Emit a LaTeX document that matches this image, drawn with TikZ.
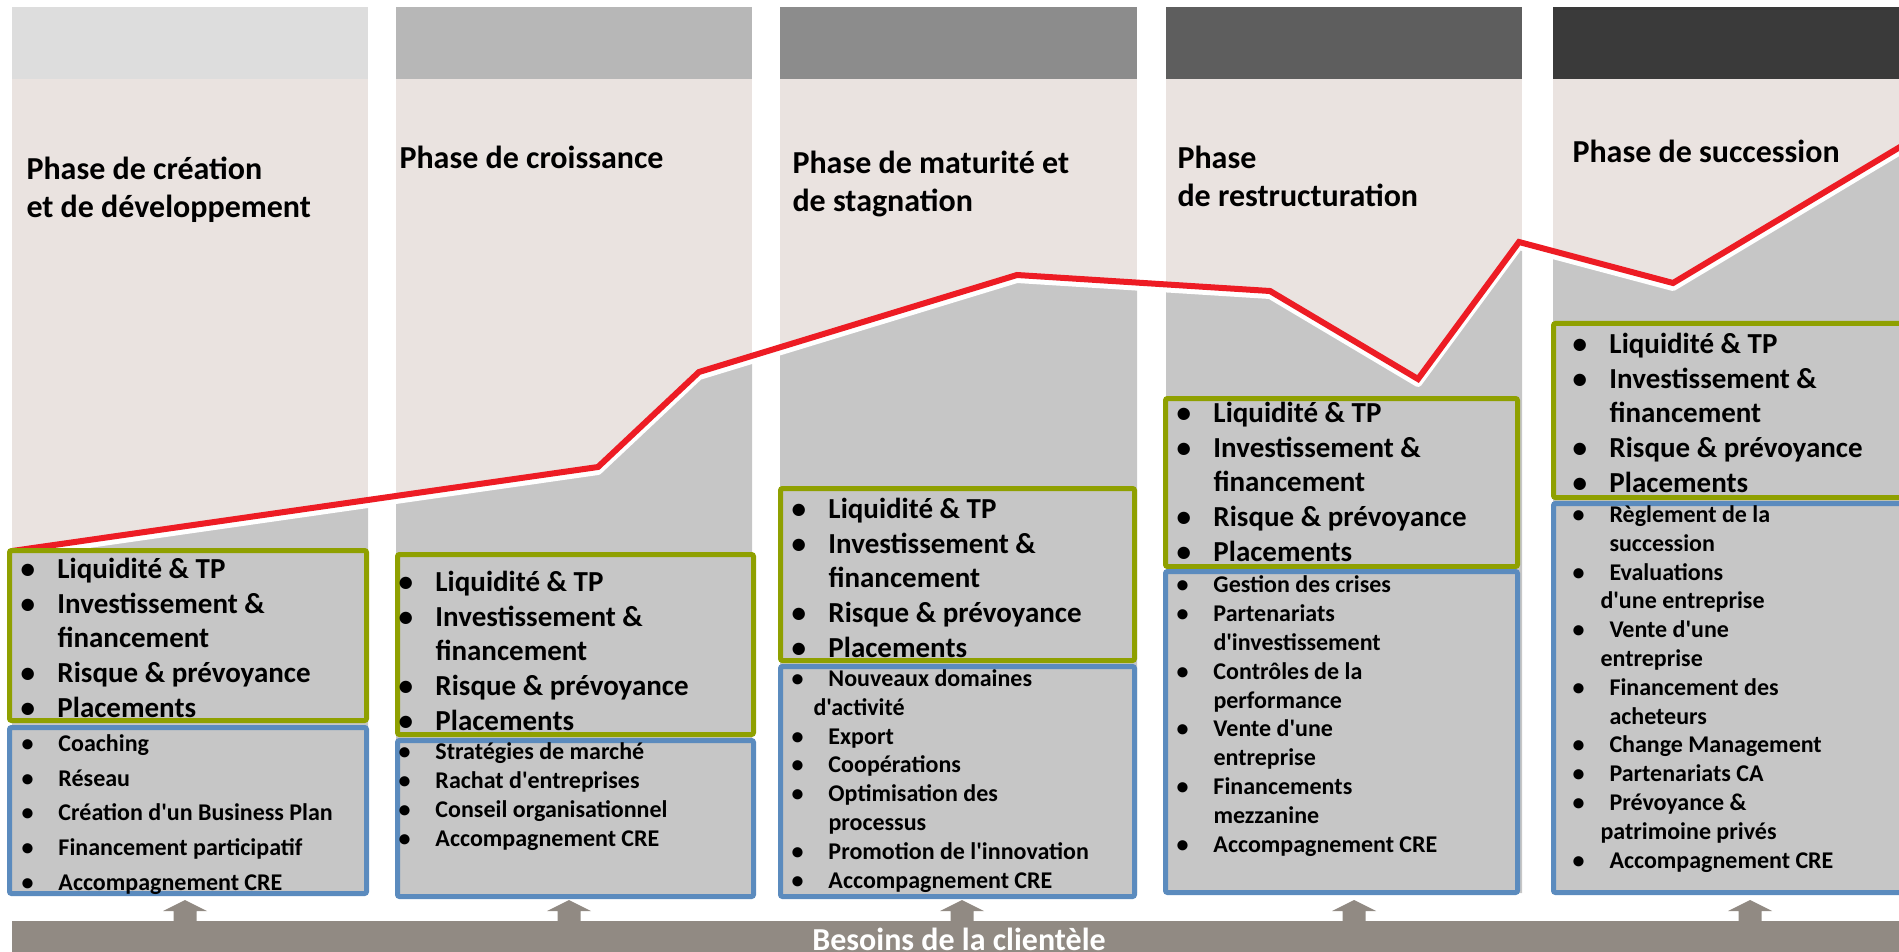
\documentclass[tikz,border=0pt]{standalone}
\usepackage{fontspec}
\setmainfont{Carlito}[Ligatures=TeXOff]
\usetikzlibrary{positioning}

\definecolor{hdA}{RGB}{221,221,221}
\definecolor{hdB}{RGB}{183,183,183}
\definecolor{hdC}{RGB}{140,140,140}
\definecolor{hdD}{RGB}{94,94,94}
\definecolor{hdE}{RGB}{58,58,58}
\definecolor{colbody}{RGB}{234,227,224}
\definecolor{areagray}{RGB}{198,198,198}
\definecolor{boxgreen}{RGB}{143,160,0}
\definecolor{boxblue}{RGB}{91,139,190}
\definecolor{curvered}{RGB}{237,28,36}
\definecolor{bandbrown}{RGB}{145,138,131}

% bullet and hanging indent of the lists
\newcommand\bul{\makebox[27.75pt][l]{\textbullet}}
\newcommand\hang{\hspace*{27.75pt}}
\newcommand\needslist{\bul Liquidité \& TP\\\bul Investissement \&\\\hang financement\\\bul Risque \& prévoyance\\\bul Placements}

\tikzset{every picture/.style={line width=0.75pt}}

\begin{document}
\begin{tikzpicture}[x=0.75pt,y=0.75pt,yscale=-1,xscale=1,
  phasetitle/.style={anchor=base west,inner sep=0pt,align=left,font=\fontsize{24}{28.5}\selectfont\bfseries},
  mainneeds/.style={anchor=base west,inner sep=0pt,align=left,font=\fontsize{21.75}{26}\selectfont\bfseries},
  servicelist/.style={anchor=base west,inner sep=0pt,align=left,font=\fontsize{18}{21.6}\selectfont\bfseries},
  greenframe/.style={draw=boxgreen,fill=areagray,line width=3.75pt,rounded corners=1.5pt},
  blueframe/.style={draw=boxblue,fill=areagray,line width=3.75pt,rounded corners=1.5pt},
  needarrow/.style={fill=bandbrown}]
\clip (0,0) rectangle (1899,952);

% Columns: header band and body
\fill[hdA] (12,7) rectangle (368,79);
\fill[hdB] (396,7) rectangle (752,79);
\fill[hdC] (780,7) rectangle (1137,79);
\fill[hdD] (1166,7) rectangle (1522,79);
\fill[hdE] (1553,7) rectangle (1910,79);
\fill[colbody] (12,79) rectangle (368,893);
\fill[colbody] (396,79) rectangle (752,893);
\fill[colbody] (780,79) rectangle (1137,893);
\fill[colbody] (1166,79) rectangle (1522,893);
\fill[colbody] (1553,79) rectangle (1910,893);

% Growth curve
\coordinate (c0) at (12,551);
\coordinate (c1) at (598,467);
\coordinate (c2) at (699,372);
\coordinate (c3) at (1017,275);
\coordinate (c4) at (1270,291);
\coordinate (c5) at (1418,379);
\coordinate (c6) at (1519,242);
\coordinate (c7) at (1673,283);
\coordinate (c8) at (1910,141);
\begin{scope}
\clip (12,79) rectangle (368,893) (396,79) rectangle (752,893) (780,79) rectangle (1137,893)
      (1166,79) rectangle (1522,893) (1553,79) rectangle (1910,893);
\fill[areagray] (c0) -- (c1) -- (c2) -- (c3) -- (c4) -- (c5) -- (c6) -- (c7) -- (c8) -- (1910,900) -- (12,900) -- cycle;
\end{scope}
\draw[white,line width=6pt,line join=round,transform canvas={yshift=-3pt}] (c0) -- (c1) -- (c2) -- (c3) -- (c4) -- (c5) -- (c6) -- (c7) -- (c8);
\draw[curvered,line width=4.5pt] (c0) -- (c1) -- (c2) -- (c3) -- (c4) -- (c5) -- (c6) -- (c7) -- (c8);

% Phase titles (placed at the baseline of their last line)
\node[phasetitle] (t1) at (26,218) {Phase de création\\et de développement};
\node[phasetitle] (t2) at (399,169) {Phase de croissance};
\node[phasetitle] (t3) at (792,212) {Phase de maturité et\\de stagnation};
\node[phasetitle] (t4) at (1177,207) {Phase\\de restructuration};
\node[phasetitle] (t5) at (1572,163) {Phase de succession};

% Frames
\draw[greenframe] (9.5,550.5) rectangle (366.5,720.5);
\draw[blueframe] (9.5,727.5) rectangle (366.5,893.5);
\draw[greenframe] (397.5,554.5) rectangle (753.5,734.5);
\draw[blueframe] (397.5,740.5) rectangle (753.5,896.5);
\draw[greenframe] (780.5,488.5) rectangle (1134.5,660.5);
\draw[blueframe] (780.5,666.5) rectangle (1134.5,896.5);
\draw[greenframe] (1165.5,398.5) rectangle (1517.5,566.5);
\draw[blueframe] (1165.5,571.5) rectangle (1517.5,892.5);
\draw[greenframe] (1553.5,323.5) rectangle (1915,497.5);
\draw[blueframe] (1553.5,503.5) rectangle (1915,892.5);

% Needs
\node[mainneeds] (n1) at (20,717) {\needslist};
\node[mainneeds] (n2) at (398,730) {\needslist};
\node[mainneeds] (n3) at (791,657) {\needslist};
\node[mainneeds] (n4) at (1176,561) {\needslist};
\node[mainneeds] (n5) at (1572,492) {\needslist};

% Services
\node[servicelist,font=\fontsize{18}{25.9}\selectfont\bfseries] (s1) at (21,890) {\bul Coaching\\\bul Réseau\\\bul Création d'un Business Plan\\\bul Financement participatif\\\bul Accompagnement CRE};
\node[servicelist] (s2) at (398,846) {\bul Stratégies de marché\\\bul Rachat d'entreprises\\\bul Conseil organisationnel\\\bul Accompagnement CRE};
\node[servicelist] (s3) at (791,888) {\bul Nouveaux domaines\\\hspace*{16.5pt}d'activité\\\bul Export\\\bul Coopérations\\\bul Optimisation des\\\hang processus\\\bul Promotion de l'innovation\\\bul Accompagnement CRE};
\node[servicelist] (s4) at (1176,852) {\bul Gestion des crises\\\bul Partenariats\\\hang d'investissement\\\bul Contrôles de la\\\hang performance\\\bul Vente d'une\\\hang entreprise\\\bul Financements\\\hang mezzanine\\\bul Accompagnement CRE};
\node[servicelist] (s5) at (1572,868) {\bul Règlement de la\\\hang succession\\\bul Evaluations\\\hspace*{21pt}d'une entreprise\\\bul Vente d'une\\\hspace*{21pt}entreprise\\\bul Financement des\\\hang acheteurs\\\bul Change Management\\\bul Partenariats CA\\\bul Prévoyance \&\\\hspace*{21pt}patrimoine privés\\\bul Accompagnement CRE};

% Client needs band
\fill[needarrow] (185,900) -- ++(22,11) -- ++(-10.5,0) -- ++(0,11) -- ++(-23,0) -- ++(0,-11) -- ++(-10.5,0) -- cycle;
\fill[needarrow] (569,900) -- ++(22,11) -- ++(-10.5,0) -- ++(0,11) -- ++(-23,0) -- ++(0,-11) -- ++(-10.5,0) -- cycle;
\fill[needarrow] (962,900) -- ++(22,11) -- ++(-10.5,0) -- ++(0,11) -- ++(-23,0) -- ++(0,-11) -- ++(-10.5,0) -- cycle;
\fill[needarrow] (1354,900) -- ++(22,11) -- ++(-10.5,0) -- ++(0,11) -- ++(-23,0) -- ++(0,-11) -- ++(-10.5,0) -- cycle;
\fill[needarrow] (1750,900) -- ++(22,11) -- ++(-10.5,0) -- ++(0,11) -- ++(-23,0) -- ++(0,-11) -- ++(-10.5,0) -- cycle;
\fill[bandbrown] (12,921) rectangle (1910,960);
\node[anchor=base,inner sep=0pt,text=white,font=\fontsize{24}{28}\selectfont\bfseries] (needs) at (959,950) {Besoins de la clientèle};

\end{tikzpicture}
\end{document}
